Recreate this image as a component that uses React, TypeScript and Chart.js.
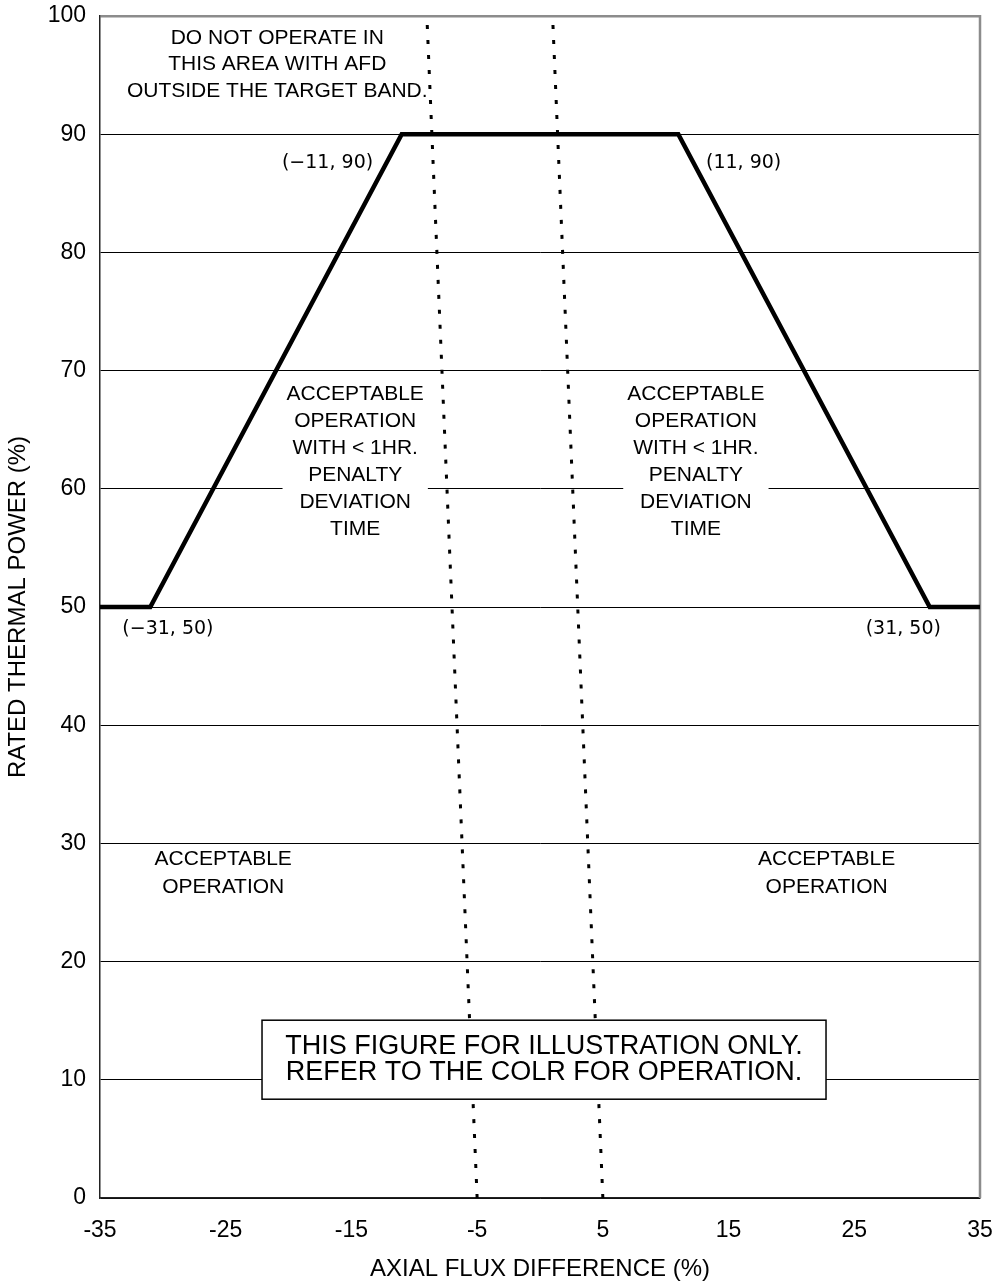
import React, { useEffect, useRef } from "react";
import { Chart, registerables } from "chart.js";

Chart.register(...registerables);

// ---- data ----
const xTickValues = [-35, -25, -15, -5, 5, 15, 25, 35];
const yTickValues = [0, 10, 20, 30, 40, 50, 60, 70, 80, 90, 100];

const limitX = [-35, -31, -11, 11, 31, 35];
const limitY = [50, 50, 90, 90, 50, 50];

const bandY = [0, 100];
const bandLowX = [-5, -9];
const bandHighX = [5, 1];

const cornerLabels = ["(−11, 90)", "(11, 90)", "(−31, 50)", "(31, 50)"];
const cornerLabelX = [-16.9, 16.2, -29.6, 28.9];
const cornerLabelY = [87.55, 87.55, 48.15, 48.15];

const topNoteLines = ["DO NOT OPERATE IN", "THIS AREA WITH AFD", "OUTSIDE THE TARGET BAND."];
const topNoteAt = [-20.9, 95.9];

const penaltyLines = ["ACCEPTABLE", "OPERATION", "WITH < 1HR.", "PENALTY", "DEVIATION", "TIME"];
const penaltyX = [-14.7, 12.4];
const penaltyY = 62.3;

const acceptLines = ["ACCEPTABLE", "OPERATION"];
const acceptX = [-25.2, 22.8];
const acceptY = 27.5;

const noticeLines = ["THIS FIGURE FOR ILLUSTRATION ONLY.", "REFER TO THE COLR FOR OPERATION."];
const noticeAt = [0.32, 11.7];

const xTitle = "AXIAL FLUX DIFFERENCE (%)";
const yTitle = "RATED THERMAL POWER (%)";

const SANS = "'Liberation Sans', Arial, sans-serif";
const GOTHIC = "'DejaVu Sans', sans-serif";

function drawLines(ctx: CanvasRenderingContext2D, lines: string[], cx: number, cy: number, lh: number) {
  const n = lines.length;
  lines.forEach((t, i) => ctx.fillText(t, cx, cy + (i - (n - 1) / 2) * lh));
}

const annotationPlugin = {
  id: "afdAnnotations",
  beforeDatasetsDraw(chart: any) {
    const { ctx, chartArea, scales } = chart;
    const x = scales.x;
    const y = scales.y;
    ctx.save();
    // right border
    ctx.strokeStyle = "#8c8c8c";
    ctx.lineWidth = 2.5;
    ctx.beginPath();
    ctx.moveTo(chartArea.right, chartArea.top - 1);
    ctx.lineTo(chartArea.right, chartArea.bottom);
    ctx.stroke();

    // penalty blocks with white backing
    ctx.font = `21px ${SANS}`;
    ctx.textAlign = "center";
    ctx.textBaseline = "middle";
    const lh = 27;
    penaltyX.forEach((vx) => {
      const cx = x.getPixelForValue(vx);
      const cy = y.getPixelForValue(penaltyY);
      const w = Math.max(...penaltyLines.map((t) => ctx.measureText(t).width)) + 8;
      const h = penaltyLines.length * lh;
      ctx.fillStyle = "#fff";
      ctx.fillRect(cx - w / 2, cy - h / 2, w, h);
      ctx.fillStyle = "#000";
      drawLines(ctx, penaltyLines, cx, cy, lh);
    });
    ctx.restore();
  },
  afterDatasetsDraw(chart: any) {
    const { ctx, scales } = chart;
    const x = scales.x;
    const y = scales.y;
    ctx.save();
    ctx.textAlign = "center";
    ctx.textBaseline = "middle";
    ctx.fillStyle = "#000";

    // top note
    ctx.font = `21px ${SANS}`;
    drawLines(ctx, topNoteLines, x.getPixelForValue(topNoteAt[0]), y.getPixelForValue(topNoteAt[1]), 26.5);

    // acceptable operation
    acceptX.forEach((vx) => {
      drawLines(ctx, acceptLines, x.getPixelForValue(vx), y.getPixelForValue(acceptY), 28);
    });

    // corner labels
    ctx.font = `19px ${GOTHIC}`;
    cornerLabels.forEach((t, i) => {
      ctx.fillText(t, x.getPixelForValue(cornerLabelX[i]), y.getPixelForValue(cornerLabelY[i]));
    });

    // notice box
    const cx = x.getPixelForValue(noticeAt[0]);
    const cy = y.getPixelForValue(noticeAt[1]);
    const bw = 564;
    const bh = 79;
    ctx.fillStyle = "#fff";
    ctx.fillRect(cx - bw / 2, cy - bh / 2, bw, bh);
    ctx.strokeStyle = "#000";
    ctx.lineWidth = 1.5;
    ctx.strokeRect(cx - bw / 2, cy - bh / 2, bw, bh);
    ctx.fillStyle = "#000";
    ctx.font = `27px ${SANS}`;
    drawLines(ctx, noticeLines, cx, cy, 26);
    ctx.restore();
  },
};

export default function App() {
  const ref = useRef<HTMLCanvasElement>(null);
  useEffect(() => {
    if (!ref.current) return;
    const chart = new Chart(ref.current, {
      type: "scatter",
      data: {
        datasets: [
          {
            label: "limit",
            data: limitX.map((v, i) => ({ x: v, y: limitY[i] })),
            showLine: true,
            borderColor: "#000",
            borderWidth: 4.5,
            pointRadius: 0,
            borderJoinStyle: "miter",
          },
          {
            label: "band low",
            data: bandLowX.map((v, i) => ({ x: v, y: bandY[i] })),
            showLine: true,
            borderColor: "#000",
            borderWidth: 3,
            borderDash: [4, 11],
            pointRadius: 0,
          },
          {
            label: "band high",
            data: bandHighX.map((v, i) => ({ x: v, y: bandY[i] })),
            showLine: true,
            borderColor: "#000",
            borderWidth: 3,
            borderDash: [4, 11],
            pointRadius: 0,
          },
        ],
      },
      options: {
        responsive: false,
        animation: false,
        devicePixelRatio: 1,
        layout: { padding: 0 },
        plugins: { legend: { display: false }, tooltip: { enabled: false } },
        scales: {
          x: {
            type: "linear",
            min: -35,
            max: 35,
            afterBuildTicks: (s: any) => {
              s.ticks = xTickValues.map((v) => ({ value: v }));
            },
            afterFit: (s: any) => {
              s.height = 88;
              s.paddingLeft = 0;
              s.paddingRight = 16;
            },
            grid: { display: false, drawTicks: false },
            border: { display: true, color: "#222", width: 1.5 },
            ticks: {
              color: "#000",
              font: { family: SANS, size: 23 },
              padding: 19,
              maxRotation: 0,
              autoSkip: false,
            },
            title: {
              display: true,
              text: xTitle,
              color: "#000",
              font: { family: SANS, size: 24 },
              padding: { top: 0, bottom: 2 },
            },
          },
          y: {
            type: "linear",
            min: 0,
            max: 100,
            afterBuildTicks: (s: any) => {
              s.ticks = yTickValues.map((v) => ({ value: v }));
            },
            afterFit: (s: any) => {
              s.width = 100;
              s.paddingTop = 16;
              s.paddingBottom = 0;
            },
            grid: {
              drawTicks: false,
              color: (c: any) => (c.tick && c.tick.value === 100 ? "#8c8c8c" : "#000"),
              lineWidth: (c: any) => (c.tick && c.tick.value === 100 ? 2.5 : 1),
            },
            border: { display: true, color: "#222", width: 1.5 },
            ticks: {
              color: "#000",
              font: { family: SANS, size: 23 },
              padding: 14,
              autoSkip: false,
            },
            title: {
              display: true,
              text: yTitle,
              color: "#000",
              font: { family: SANS, size: 24 },
              padding: { top: 4, bottom: 0 },
            },
          },
        },
      },
      plugins: [annotationPlugin],
    } as any);
    return () => chart.destroy();
  }, []);
  return (
    <div style={{ position: "absolute", left: 0, top: 0, width: 996, height: 1286, background: "#fff" }}>
      <canvas ref={ref} width={996} height={1286} style={{ display: "block" }} />
    </div>
  );
}
